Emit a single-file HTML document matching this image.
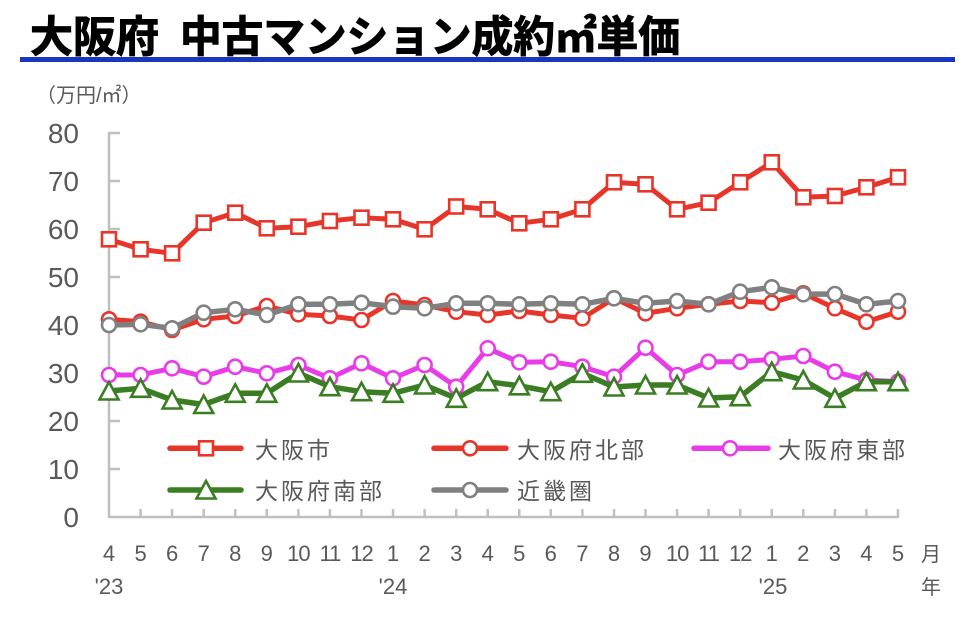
<!DOCTYPE html>
<html><head><meta charset="utf-8">
<style>
html,body{margin:0;padding:0;background:#fff;}
svg{display:block;}
.t{font-family:"Liberation Sans","Noto Sans CJK JP",sans-serif;fill:#595959;}
.j{font-family:"Liberation Sans","Noto Sans CJK JP",sans-serif;fill:#595959;}
</style></head>
<body>
<svg width="978" height="626" viewBox="0 0 978 626" xmlns="http://www.w3.org/2000/svg">
<defs>
<rect id="sq" x="-7" y="-7" width="14" height="14" fill="#fff" stroke="#e8352a" stroke-width="2.6"/>
<circle id="cr" r="7" fill="#fff" stroke="#e8352a" stroke-width="2.6"/>
<circle id="cm" r="7" fill="#fff" stroke="#e83ce8" stroke-width="2.6"/>
<circle id="cg" r="7" fill="#fff" stroke="#808080" stroke-width="2.6"/>
<path id="tr" d="M0,-9 L9.5,8.5 L-9.5,8.5 Z" fill="#fff" stroke="#3b7d23" stroke-width="2.6" stroke-linejoin="miter"/>
</defs>

<!-- Title -->
<text x="30" y="52" font-family="'Noto Sans CJK JP',sans-serif" font-weight="bold" font-size="43" fill="#000" stroke="#000" stroke-width="1">大阪府</text>
<text x="180" y="52" font-family="'Noto Sans CJK JP',sans-serif" font-weight="bold" font-size="43" fill="#000" stroke="#000" stroke-width="1" textLength="500" lengthAdjust="spacingAndGlyphs">中古マンション成約㎡単価</text>
<rect x="20" y="57" width="935" height="5" fill="#1a35c0"/>

<!-- unit -->
<text x="36" y="102" class="j" font-size="20">（万円/㎡）</text>

<!-- Y labels -->
<g class="t" font-size="28" text-anchor="end">
<text x="79" y="143">80</text>
<text x="79" y="191">70</text>
<text x="79" y="239">60</text>
<text x="79" y="287">50</text>
<text x="79" y="335">40</text>
<text x="79" y="383">30</text>
<text x="79" y="431">20</text>
<text x="79" y="479">10</text>
<text x="79" y="527">0</text>
</g>

<!-- Axes -->
<g stroke="#bfbfbf" stroke-width="2.5" fill="none">
<line x1="109" y1="132" x2="109" y2="518"/>
<line x1="108" y1="517" x2="899" y2="517"/>
<path d="M109,133H120M109,181H120M109,229H120M109,277H120M109,325H120M109,373H120M109,421H120M109,469H120"/>
<path d="M140.6,517V509M172.1,517V509M203.7,517V509M235.2,517V509M266.8,517V509M298.4,517V509M329.9,517V509M361.5,517V509M393,517V509M424.6,517V509M456.2,517V509M487.7,517V509M519.3,517V509M550.8,517V509M582.4,517V509M614,517V509M645.5,517V509M677.1,517V509M708.6,517V509M740.2,517V509M771.8,517V509M803.3,517V509M834.9,517V509M866.4,517V509M898,517V509"/>
</g>

<!-- X labels -->
<g class="t" font-size="22" text-anchor="middle">
<text x="109" y="561">4</text><text x="140.6" y="561">5</text><text x="172.1" y="561">6</text><text x="203.7" y="561">7</text><text x="235.2" y="561">8</text><text x="266.8" y="561">9</text><text x="298.4" y="561" letter-spacing="-1">10</text><text x="329.9" y="561" letter-spacing="-1">11</text><text x="361.5" y="561" letter-spacing="-1">12</text><text x="393" y="561">1</text><text x="424.6" y="561">2</text><text x="456.2" y="561">3</text><text x="487.7" y="561">4</text><text x="519.3" y="561">5</text><text x="550.8" y="561">6</text><text x="582.4" y="561">7</text><text x="614" y="561">8</text><text x="645.5" y="561">9</text><text x="677.1" y="561" letter-spacing="-1">10</text><text x="708.6" y="561" letter-spacing="-1">11</text><text x="740.2" y="561" letter-spacing="-1">12</text><text x="771.8" y="561">1</text><text x="803.3" y="561">2</text><text x="834.9" y="561">3</text><text x="866.4" y="561">4</text><text x="898" y="561">5</text>
<text x="109" y="594">'23</text>
<text x="393" y="594">'24</text>
<text x="773" y="594">'25</text>
</g>
<text x="931" y="561" class="j" font-size="20" text-anchor="middle">月</text>
<text x="931" y="594" class="j" font-size="20" text-anchor="middle">年</text>

<!-- Series lines & markers -->
<g fill="none" stroke-width="5" stroke-linejoin="round" stroke-linecap="round">
<polyline stroke="#e8352a" points="109,239.3 140.6,249.3 172.1,253.3 203.7,222.7 235.2,212.7 266.8,228.3 298.4,226.7 329.9,221 361.5,217.7 393,219.3 424.6,229.3 456.2,206.5 487.7,209.3 519.3,223.3 550.8,219.3 582.4,209.3 614,182.3 645.5,184.3 677.1,209.3 708.6,202.7 740.2,182.3 771.8,162.3 803.3,197.3 834.9,196 866.4,187.3 898,177.3"/>
</g>
<g>
<use href="#sq" x="109" y="239.3"/><use href="#sq" x="140.6" y="249.3"/><use href="#sq" x="172.1" y="253.3"/><use href="#sq" x="203.7" y="222.7"/><use href="#sq" x="235.2" y="212.7"/><use href="#sq" x="266.8" y="228.3"/><use href="#sq" x="298.4" y="226.7"/><use href="#sq" x="329.9" y="221"/><use href="#sq" x="361.5" y="217.7"/><use href="#sq" x="393" y="219.3"/><use href="#sq" x="424.6" y="229.3"/><use href="#sq" x="456.2" y="206.5"/><use href="#sq" x="487.7" y="209.3"/><use href="#sq" x="519.3" y="223.3"/><use href="#sq" x="550.8" y="219.3"/><use href="#sq" x="582.4" y="209.3"/><use href="#sq" x="614" y="182.3"/><use href="#sq" x="645.5" y="184.3"/><use href="#sq" x="677.1" y="209.3"/><use href="#sq" x="708.6" y="202.7"/><use href="#sq" x="740.2" y="182.3"/><use href="#sq" x="771.8" y="162.3"/><use href="#sq" x="803.3" y="197.3"/><use href="#sq" x="834.9" y="196"/><use href="#sq" x="866.4" y="187.3"/><use href="#sq" x="898" y="177.3"/>
</g>

<polyline fill="none" stroke-width="5" stroke-linejoin="round" stroke="#e8352a" points="109,319.3 140.6,321.7 172.1,330 203.7,319.3 235.2,316 266.8,306 298.4,314.3 329.9,316 361.5,320 393,301 424.6,305 456.2,311.7 487.7,315 519.3,311 550.8,315 582.4,318.3 614,298.3 645.5,313.3 677.1,308.3 708.6,304.3 740.2,301 771.8,302.7 803.3,293.3 834.9,308.3 866.4,321.7 898,311.7"/>
<g>
<use href="#cr" x="109" y="319.3"/><use href="#cr" x="140.6" y="321.7"/><use href="#cr" x="172.1" y="330"/><use href="#cr" x="203.7" y="319.3"/><use href="#cr" x="235.2" y="316"/><use href="#cr" x="266.8" y="306"/><use href="#cr" x="298.4" y="314.3"/><use href="#cr" x="329.9" y="316"/><use href="#cr" x="361.5" y="320"/><use href="#cr" x="393" y="301"/><use href="#cr" x="424.6" y="305"/><use href="#cr" x="456.2" y="311.7"/><use href="#cr" x="487.7" y="315"/><use href="#cr" x="519.3" y="311"/><use href="#cr" x="550.8" y="315"/><use href="#cr" x="582.4" y="318.3"/><use href="#cr" x="614" y="298.3"/><use href="#cr" x="645.5" y="313.3"/><use href="#cr" x="677.1" y="308.3"/><use href="#cr" x="708.6" y="304.3"/><use href="#cr" x="740.2" y="301"/><use href="#cr" x="771.8" y="302.7"/><use href="#cr" x="803.3" y="293.3"/><use href="#cr" x="834.9" y="308.3"/><use href="#cr" x="866.4" y="321.7"/><use href="#cr" x="898" y="311.7"/>
</g>

<polyline fill="none" stroke-width="5" stroke-linejoin="round" stroke="#e83ce8" points="109,375 140.6,375 172.1,368.3 203.7,376.7 235.2,366.7 266.8,373.3 298.4,365 329.9,378.3 361.5,363.3 393,378.3 424.6,365 456.2,386.7 487.7,348.3 519.3,362.3 550.8,361.7 582.4,366.7 614,376.7 645.5,347.7 677.1,375 708.6,361.7 740.2,361.7 771.8,359.3 803.3,356 834.9,371.7 866.4,380 898,381.7"/>
<g>
<use href="#cm" x="109" y="375"/><use href="#cm" x="140.6" y="375"/><use href="#cm" x="172.1" y="368.3"/><use href="#cm" x="203.7" y="376.7"/><use href="#cm" x="235.2" y="366.7"/><use href="#cm" x="266.8" y="373.3"/><use href="#cm" x="298.4" y="365"/><use href="#cm" x="329.9" y="378.3"/><use href="#cm" x="361.5" y="363.3"/><use href="#cm" x="393" y="378.3"/><use href="#cm" x="424.6" y="365"/><use href="#cm" x="456.2" y="386.7"/><use href="#cm" x="487.7" y="348.3"/><use href="#cm" x="519.3" y="362.3"/><use href="#cm" x="550.8" y="361.7"/><use href="#cm" x="582.4" y="366.7"/><use href="#cm" x="614" y="376.7"/><use href="#cm" x="645.5" y="347.7"/><use href="#cm" x="677.1" y="375"/><use href="#cm" x="708.6" y="361.7"/><use href="#cm" x="740.2" y="361.7"/><use href="#cm" x="771.8" y="359.3"/><use href="#cm" x="803.3" y="356"/><use href="#cm" x="834.9" y="371.7"/><use href="#cm" x="866.4" y="380"/><use href="#cm" x="898" y="381.7"/>
</g>

<polyline fill="none" stroke-width="5.5" stroke-linejoin="round" stroke="#3b7d23" points="109,391 140.6,388.3 172.1,400 203.7,404.5 235.2,393.3 266.8,393.3 298.4,373 329.9,386.7 361.5,391.7 393,393.3 424.6,385 456.2,398.3 487.7,381.7 519.3,385.8 550.8,391.7 582.4,373.3 614,387 645.5,385 677.1,385 708.6,398 740.2,396.7 771.8,371.7 803.3,380 834.9,398.3 866.4,381.7 898,381.7"/>
<g>
<use href="#tr" x="109" y="391"/><use href="#tr" x="140.6" y="388.3"/><use href="#tr" x="172.1" y="400"/><use href="#tr" x="203.7" y="404.5"/><use href="#tr" x="235.2" y="393.3"/><use href="#tr" x="266.8" y="393.3"/><use href="#tr" x="298.4" y="373"/><use href="#tr" x="329.9" y="386.7"/><use href="#tr" x="361.5" y="391.7"/><use href="#tr" x="393" y="393.3"/><use href="#tr" x="424.6" y="385"/><use href="#tr" x="456.2" y="398.3"/><use href="#tr" x="487.7" y="381.7"/><use href="#tr" x="519.3" y="385.8"/><use href="#tr" x="550.8" y="391.7"/><use href="#tr" x="582.4" y="373.3"/><use href="#tr" x="614" y="387"/><use href="#tr" x="645.5" y="385"/><use href="#tr" x="677.1" y="385"/><use href="#tr" x="708.6" y="398"/><use href="#tr" x="740.2" y="396.7"/><use href="#tr" x="771.8" y="371.7"/><use href="#tr" x="803.3" y="380"/><use href="#tr" x="834.9" y="398.3"/><use href="#tr" x="866.4" y="381.7"/><use href="#tr" x="898" y="381.7"/>
</g>

<polyline fill="none" stroke-width="5.5" stroke-linejoin="round" stroke="#808080" points="109,325 140.6,324.3 172.1,328.3 203.7,312.7 235.2,309.3 266.8,315 298.4,304.3 329.9,304.3 361.5,302.7 393,306.7 424.6,308.3 456.2,303.3 487.7,303.3 519.3,304.3 550.8,303.3 582.4,304.3 614,298.3 645.5,303.3 677.1,301 708.6,304.3 740.2,291.7 771.8,287.3 803.3,294.3 834.9,294 866.4,304.3 898,301"/>
<g>
<use href="#cg" x="109" y="325"/><use href="#cg" x="140.6" y="324.3"/><use href="#cg" x="172.1" y="328.3"/><use href="#cg" x="203.7" y="312.7"/><use href="#cg" x="235.2" y="309.3"/><use href="#cg" x="266.8" y="315"/><use href="#cg" x="298.4" y="304.3"/><use href="#cg" x="329.9" y="304.3"/><use href="#cg" x="361.5" y="302.7"/><use href="#cg" x="393" y="306.7"/><use href="#cg" x="424.6" y="308.3"/><use href="#cg" x="456.2" y="303.3"/><use href="#cg" x="487.7" y="303.3"/><use href="#cg" x="519.3" y="304.3"/><use href="#cg" x="550.8" y="303.3"/><use href="#cg" x="582.4" y="304.3"/><use href="#cg" x="614" y="298.3"/><use href="#cg" x="645.5" y="303.3"/><use href="#cg" x="677.1" y="301"/><use href="#cg" x="708.6" y="304.3"/><use href="#cg" x="740.2" y="291.7"/><use href="#cg" x="771.8" y="287.3"/><use href="#cg" x="803.3" y="294.3"/><use href="#cg" x="834.9" y="294"/><use href="#cg" x="866.4" y="304.3"/><use href="#cg" x="898" y="301"/>
</g>

<!-- Legend -->
<g stroke-width="5.5" stroke-linecap="round">
<line x1="170" y1="448.3" x2="241" y2="448.3" stroke="#e8352a"/>
<line x1="434" y1="448.3" x2="506" y2="448.3" stroke="#e8352a"/>
<line x1="694" y1="448.3" x2="768" y2="448.3" stroke="#e83ce8"/>
<line x1="170" y1="490" x2="241" y2="490" stroke="#3b7d23"/>
<line x1="434" y1="490" x2="506" y2="490" stroke="#808080"/>
</g>
<use href="#sq" x="206" y="448.3"/>
<use href="#cr" x="470" y="448.3"/>
<use href="#cm" x="730" y="448.3"/>
<use href="#tr" x="206" y="490"/>
<use href="#cg" x="470" y="490"/>
<g class="j" font-size="23" letter-spacing="3">
<text x="255" y="458">大阪市</text>
<text x="517" y="458">大阪府北部</text>
<text x="778" y="458">大阪府東部</text>
<text x="255" y="499">大阪府南部</text>
<text x="517" y="499">近畿圏</text>
</g>
</svg>
</body></html>
